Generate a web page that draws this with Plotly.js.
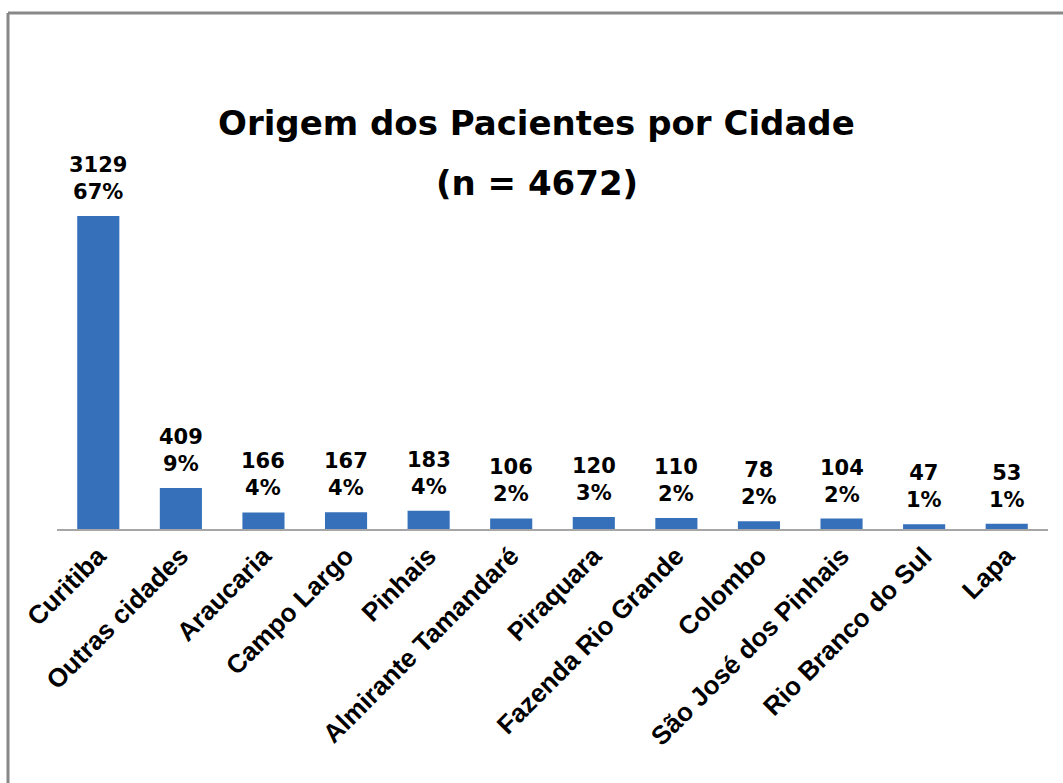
<!DOCTYPE html>
<html><head><meta charset="utf-8">
<script src="https://cdn.plot.ly/plotly-3.0.1.min.js"></script>
<style>html,body{margin:0;padding:0;background:#fff;}#chart{width:1063px;height:783px;}</style>
</head><body><div id="chart"></div>
<script>
const cities = ["Curitiba","Outras cidades","Araucaria","Campo Largo","Pinhais","Almirante Tamandaré","Piraquara","Fazenda Rio Grande","Colombo","São José dos Pinhais","Rio Branco do Sul","Lapa"];
const counts = [3129,409,166,167,183,106,120,110,78,104,47,53];
const percents = ["67%","9%","4%","4%","4%","2%","3%","2%","2%","2%","1%","1%"];
const titleLine1 = "Origem dos Pacientes por Cidade";
const titleLine2 = "(n = 4672)";

const trace = {
  type:"bar", x:cities, y:counts,
  cliponaxis:false,
  marker:{color:"#3670BA", line:{width:0}},
  width:0.51, hoverinfo:"none"
};

const labelAnns = cities.map((c,i)=>({
  x:c, y:counts[i], xref:"x", yref:"y", xanchor:"center", yanchor:"bottom",
  yshift:10, showarrow:false,
  text:"<b>"+counts[i]+"<br>"+percents[i]+"</b>",
  font:{family:"'DejaVu Sans', sans-serif", size:21, color:"#000"}
}));

const layout = {
  width:1063, height:783,
  margin:{l:57, r:15, t:129, b:254},
  paper_bgcolor:"#fff", plot_bgcolor:"#fff",
  showlegend:false,
  xaxis:{
    showline:true, linecolor:"#a6a6a6", linewidth:1.5, ticks:"", tickangle:-45,
    tickfont:{family:"'Liberation Sans', Arial, sans-serif", size:26, color:"#000", weight:"bold"},
    showgrid:false, zeroline:false
  },
  yaxis:{range:[0,4000], visible:false, showgrid:false, zeroline:false},
  annotations:[
    {text:"<b>"+titleLine1+"</b>", xref:"paper", yref:"paper", x:0.484, y:(529-123)/400, xanchor:"center", yanchor:"middle", showarrow:false,
     font:{family:"'DejaVu Sans', sans-serif", size:34, color:"#000"}},
    {text:"<b>"+titleLine2+"</b>", xref:"paper", yref:"paper", x:0.484, y:(529-183)/400, xanchor:"center", yanchor:"middle", showarrow:false,
     font:{family:"'DejaVu Sans', sans-serif", size:34, color:"#000"}}
  ].concat(labelAnns),
  shapes:[
    {type:"line", xref:"paper", yref:"paper", x0:(8-57)/991, x1:(1070-57)/991, y0:(529-13)/400, y1:(529-13)/400, line:{color:"#888", width:3}},
    {type:"line", xref:"paper", yref:"paper", x0:(8-57)/991, x1:(8-57)/991, y0:(529-13)/400, y1:(529-790)/400, line:{color:"#888", width:3}}
  ]
};
Plotly.newPlot("chart",[trace],layout,{staticPlot:true});
</script></body></html>
